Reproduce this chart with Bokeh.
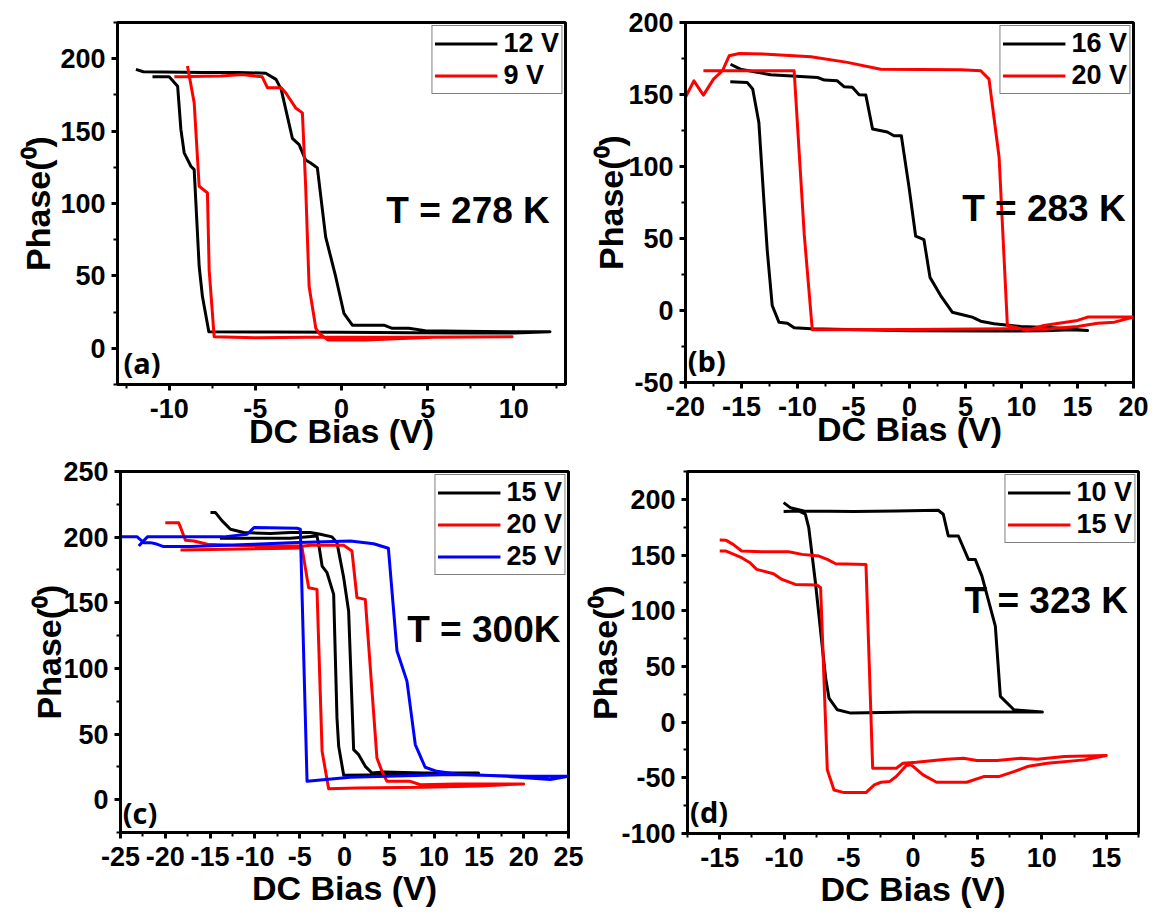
from bokeh.plotting import figure
from bokeh.models import Range1d, SingleIntervalTicker, Label, CustomJSTickFormatter
from bokeh.layouts import column, row
from bokeh.embed import file_html
from bokeh.resources import INLINE

# ---------------- data ----------------
# (a) T = 278 K
a12_x = [-11.93, -11.5, -8, -6, -4.4, -3.8, -3.5, -2.85, -2.46, -2.08, -1.79, -1.4, -0.92, -0.34, 0.14,
         0.63, 2.46, 2.95, 3.9, 4.86, 7, 9.7, 12.1, 10, 7, 4, 0, -4, -7.7, -8.07, -8.26, -8.55, -8.74,
         -9.13, -9.32, -9.51, -10.0, -10.97]
a12_y = [192.6, 191, 190.5, 190.5, 190, 185.7, 178.8, 145, 140.7, 130, 128, 124.6, 77, 49.6, 24.2,
         16, 16, 13.8, 13.8, 12.2, 11.8, 11.5, 11.5, 10.5, 10.6, 10.8, 11, 11.2, 11.5, 35.7, 56.5, 123.4, 125.7,
         135, 151, 181, 187.5, 187.5]
a9_x = [-9.7, -7, -5.75, -4.6, -4.3, -3.5, -3.24, -2.66, -2.27, -2.08, -1.98, -1.88, -1.49, -1.3, -0.8,
        1.4, 5.3, 9.9, 7, 3, -2, -5, -7.39, -7.68, -7.78, -8.26, -8.55, -8.94]
a9_y = [187.5, 188, 189, 187.5, 180, 180, 176.5, 166, 162.6, 112, 77, 42.7, 13.8, 10.4, 5.8,
        5.8, 7.6, 8, 7.8, 7.7, 7.6, 7.3, 8, 54, 107.3, 111.9, 169.6, 195]

# (b) T = 283 K
b16_x = [-15.98, -15.1, -12.4, -8.2, -7.6, -6.45, -5.85, -5.1, -4.5, -3.9, -3.3, -1.98, -1.39, -0.73, -0.04,
         0.55, 1.29, 1.83, 2.78, 3.82, 5.0, 5.6, 6.36, 7.55, 9.04, 9.93, 12.9, 15.9, 14.5, 12, 7.55, 0, -8.8,
         -10.3, -10.9, -11.66, -12.26, -12.7, -13.0, -13.45, -14.0, -14.5, -16.0]
b16_y = [171, 167.6, 163.7, 161.8, 160, 159.5, 155.4, 155, 149.8, 149.6, 126, 124, 121.4, 121.4, 85.5,
         51.6, 49.2, 23, 10.4, -1.2, -3.5, -4.6, -7.4, -9.2, -10.4, -11.1, -12, -13.9, -13.3, -14, -14.3, -14, -12.7,
         -12, -8.8, -8.1, 3.5, 41.6, 76.3, 130.6, 153.8, 158.4, 158.8]
b20_x = [-18.4, -10.3, -9.4, -8.68, 0, 8.74, 9.93, 10.5, 12, 15, 15.9, 20, 18.3, 16.8, 15, 12, 9.93, 8.74,
         8.0, 7.1, 6.36, 4.6, -2.58, -5.55, -8.8, -12.7, -15.2, -16.1, -16.7, -17.5, -18.4, -19.25, -20]
b20_y = [166.5, 166.5, 53, -13.4, -13.2, -12.7, -12.7, -13.9, -10.4, -6.9, -4.6, -4.6, -8.1, -8.8, -11.1, -13, -12.7, -10.4,
         106.4, 160.7, 166.5, 167.2, 167.6, 172.3, 176.2, 178, 178.5, 176.9, 166.5, 160.7, 149.6, 159.5, 148]

# (c) T = 300 K
c15_x = [-14.96, -14.4, -13.66, -12.73, -11.25, -8.27, -6.04, -3.8, -2.7, -1.4, -0.84, -0.09, 0.46, 1.02,
         1.58, 2.32, 3.07, 4.37, 8.8, 14.96, 10, 5, -0.09, -0.65, -0.84, -1.21, -1.95, -2.5, -2.88, -3.07,
         -6.04, -13.9]
c15_y = [218.7, 218.7, 212.4, 206, 203.5, 202.7, 203.5, 203.5, 202.2, 200.2, 195.8, 169.1, 143.7, 38.1,
         34.3, 25.4, 20.3, 21.1, 20.3, 20.3, 19.5, 19, 18.6, 40.7, 62.3, 156.4, 172.9, 178, 194.6, 200.9,
         199.1, 199.1]
c20_x = [-20, -18.5, -17.75, -16.8, -15.3, -12.7, -7.9, -4.56, -3.8, -0.09, 0.83, 1.39, 2.32, 3.62, 4.18,
         4.74, 7.34, 8.46, 12.5, 20, 15, 8.8, 1.4, -1.77, -2.5, -3.07, -4.0, -4.74, -6.04, -18.3]
c20_y = [211, 211, 197.6, 197.1, 194.6, 193.8, 193.3, 193.3, 193.8, 193.8, 189.5, 153.9, 152.6, 31.8, 21.6,
         14, 14, 11.4, 12, 12, 10.5, 9.4, 8.9, 8.4, 36.9, 160.2, 161.5, 192, 191.5, 190.2]
c25_x = [-25, -23.14, -22.4, -21.66, -21.1, -20.2, -17.2, -10.1, -6.04, 0.65, 3.25, 4.9, 5.86, 6.97, 7.9,
         9.0, 10.3, 12.5, 18.1, 22.96, 25, 20, 12, 0.65, -4.18, -4.93, -5.3, -10.1, -10.87, -13.5, -22.0, -22.96]
c25_y = [200.2, 200.2, 195.8, 195.8, 195, 192.8, 192.8, 194.6, 195.8, 197.1, 195, 191.5, 113.2, 90.3, 42,
         24.7, 21.6, 19.6, 17.8, 15.3, 17.8, 17.8, 19.2, 17, 14, 206, 206.8, 207.3, 202.2, 200.2, 200.2, 193.3]

# (d) T = 323 K
d10_x = [-10.04, -9.52, -8.48, -4.57, -1.3, 1.96, 2.35, 2.74, 3.52, 4.3, 4.83, 5.35, 6.39, 6.78, 7.83,
         10.04, 5, 0, -4.83, -5.87, -6.52, -6.78, -7.57, -8.09, -8.35, -8.87, -10.04]
d10_y = [197.1, 192.6, 189.6, 189, 189.6, 190.2, 186.6, 167.1, 167.1, 146.1, 146.1, 131.1, 86.1, 23.1, 11.1,
         9, 9, 9, 8.1, 11.1, 21.6, 39.6, 125.1, 174.6, 186.6, 189.6, 189]
d15_x = [-15, -14.5, -13.96, -13.3, -11.74, -9.65, -8.61, -7.3, -6.65, -6.0, -3.65, -3.13, -1.3, -0.78, 0.26,
         2.61, 3.91, 4.96, 6.52, 8.35, 9.65, 11.74, 15, 13.3, 10.4, 8.87, 7.83, 6.65, 5.48, 4.17, 1.83, 0.78,
         -0.13, -0.52, -1.3, -1.83, -2.48, -3.0, -3.65, -5.35, -6.13, -6.65, -7.17, -7.43, -9.13, -10.17,
         -10.83, -12.13, -12.65, -13.3, -14.5, -15]
d15_y = [163.5, 163.2, 159.6, 153.6, 153, 153, 150.6, 149.1, 146.1, 142.2, 141.6, -41.4, -41.4, -36.9, -36,
         -33.3, -32.4, -34.5, -34.5, -32.4, -33.3, -30.9, -30, -33.9, -36.9, -39.9, -44.4, -48.9, -48.9, -54, -54, -47.4,
         -38.4, -39, -48.9, -53.4, -54, -56.4, -63.3, -63.3, -60.9, -42.9, 120.6, 123, 123.6, 128.1,
         133.2, 137.1, 143.1, 147.6, 153.6, 153.6]

temps = ["T = 278 K", "T = 283 K", "T  = 300K", "T = 323 K"]
panel_tags = ["(a)", "(b)", "(c)", "(d)"]

FONT = "Liberation Sans"
BLACK, RED, BLUE = "#000000", "#ff0000", "#0000ff"


def make_fig(xr, yr, fw, fh, bl, br, bt, bb, ystand, xstand):
    p = figure(frame_width=fw, frame_height=fh, x_range=Range1d(*xr), y_range=Range1d(*yr),
               output_backend="svg", toolbar_location=None,
               min_border_left=bl, min_border_right=br, min_border_top=bt, min_border_bottom=bb,
               background_fill_color="white", border_fill_color="white")
    p.xgrid.visible = False
    p.ygrid.visible = False
    p.outline_line_color = "black"
    p.outline_line_width = 3
    p.outline_line_alpha = 1
    p.xaxis.ticker = SingleIntervalTicker(interval=5, num_minor_ticks=2)
    p.yaxis.ticker = SingleIntervalTicker(interval=50, num_minor_ticks=2)
    for ax in (p.xaxis[0], p.yaxis[0]):
        ax.formatter = CustomJSTickFormatter(code="return tick.toFixed(0);")
        ax.axis_line_width = 3
        ax.axis_line_color = "black"
        ax.major_tick_line_width = 3
        ax.minor_tick_line_width = 2
        ax.major_tick_out = 6
        ax.major_tick_in = 0
        ax.minor_tick_out = 4
        ax.minor_tick_in = 0
        ax.major_label_text_font = FONT
        ax.major_label_text_font_size = "27px"
        ax.major_label_text_font_style = "bold"
        ax.major_label_text_color = "black"
        ax.axis_label_text_font = FONT
        ax.axis_label_text_font_size = "34px"
        ax.axis_label_text_font_style = "bold"
        ax.axis_label_text_color = "black"
    p.xaxis.major_label_standoff = 8
    p.yaxis.major_label_standoff = 6
    p.xaxis.axis_label = "DC Bias (V)"
    p.xaxis.axis_label_standoff = xstand
    p.yaxis.axis_label = "Phase(\u2070)"
    p.yaxis.axis_label_standoff = ystand
    return p


def style_legend(p):
    lg = p.legend[0]
    lg.location = "top_right"
    lg.margin = 3
    lg.padding = 2
    lg.spacing = 1
    lg.glyph_width = 63
    lg.glyph_height = 31
    lg.label_height = 31
    lg.label_standoff = 6
    lg.label_text_font = FONT
    lg.label_text_font_size = "27px"
    lg.label_text_font_style = "bold"
    lg.label_text_color = "black"
    lg.border_line_color = "black"
    lg.border_line_width = 1.5
    lg.background_fill_alpha = 1


def add_texts(p, tx, ty, t, lx, ly, tag):
    p.add_layout(Label(x=tx, y=ty, text=t, text_font=FONT, text_font_size="37px", text_color="black",
                       text_font_style="bold", text_baseline="middle", text_align="left"))
    p.add_layout(Label(x=lx, y=ly, text=tag, text_font="Open Sans", text_font_size="29px", text_color="black",
                       text_font_style="bold", text_baseline="middle", text_align="left"))


LW = 3
# (a)
pa = make_fig((-13, 13), (-25, 225), 448, 362, 117, 9, 20, 73, 0, -9)
pa.line(a12_x, a12_y, color=BLACK, line_width=LW, line_join="round", legend_label="12 V")
pa.line(a9_x, a9_y, color=RED, line_width=LW, line_join="round", legend_label="9 V")
style_legend(pa)
add_texts(pa, 2.6, 95, temps[0], -12.65, -10, panel_tags[0])

# (b)
pb = make_fig((-20, 20), (-50, 200), 448, 360, 111, 17, 22, 73, -5, -9)
pb.line(b16_x, b16_y, color=BLACK, line_width=LW, line_join="round", legend_label="16 V")
pb.line(b20_x, b20_y, color=RED, line_width=LW, line_join="round", legend_label="20 V")
style_legend(pb)
add_texts(pb, 4.7, 71, temps[1], -19.8, -35, panel_tags[1])

# (c)
pc = make_fig((-25, 25), (-25, 250), 448, 361, 120, 15, 16, 82, -8, 0)
pc.line(c15_x, c15_y, color=BLACK, line_width=LW, line_join="round", legend_label="15 V")
pc.line(c20_x, c20_y, color=RED, line_width=LW, line_join="round", legend_label="20 V")
pc.line(c25_x, c25_y, color=BLUE, line_width=LW, line_join="round", legend_label="25 V")
style_legend(pc)
add_texts(pc, 7.0, 130, temps[2], -24.75, -10, panel_tags[2])

# (d)
pd_ = make_fig((-17.5, 17.5), (-100, 225), 451, 362, 101, 15, 15, 82, -6, 0)
pd_.line(d10_x, d10_y, color=BLACK, line_width=LW, line_join="round", legend_label="10 V")
pd_.line(d15_x, d15_y, color=RED, line_width=LW, line_join="round", legend_label="15 V")
style_legend(pd_)
add_texts(pd_, 4.0, 109, temps[3], -17.3, -80, panel_tags[3])

layout = column(row(pa, pb), row(pc, pd_))
open("out.html", "w").write(file_html(layout, INLINE))
